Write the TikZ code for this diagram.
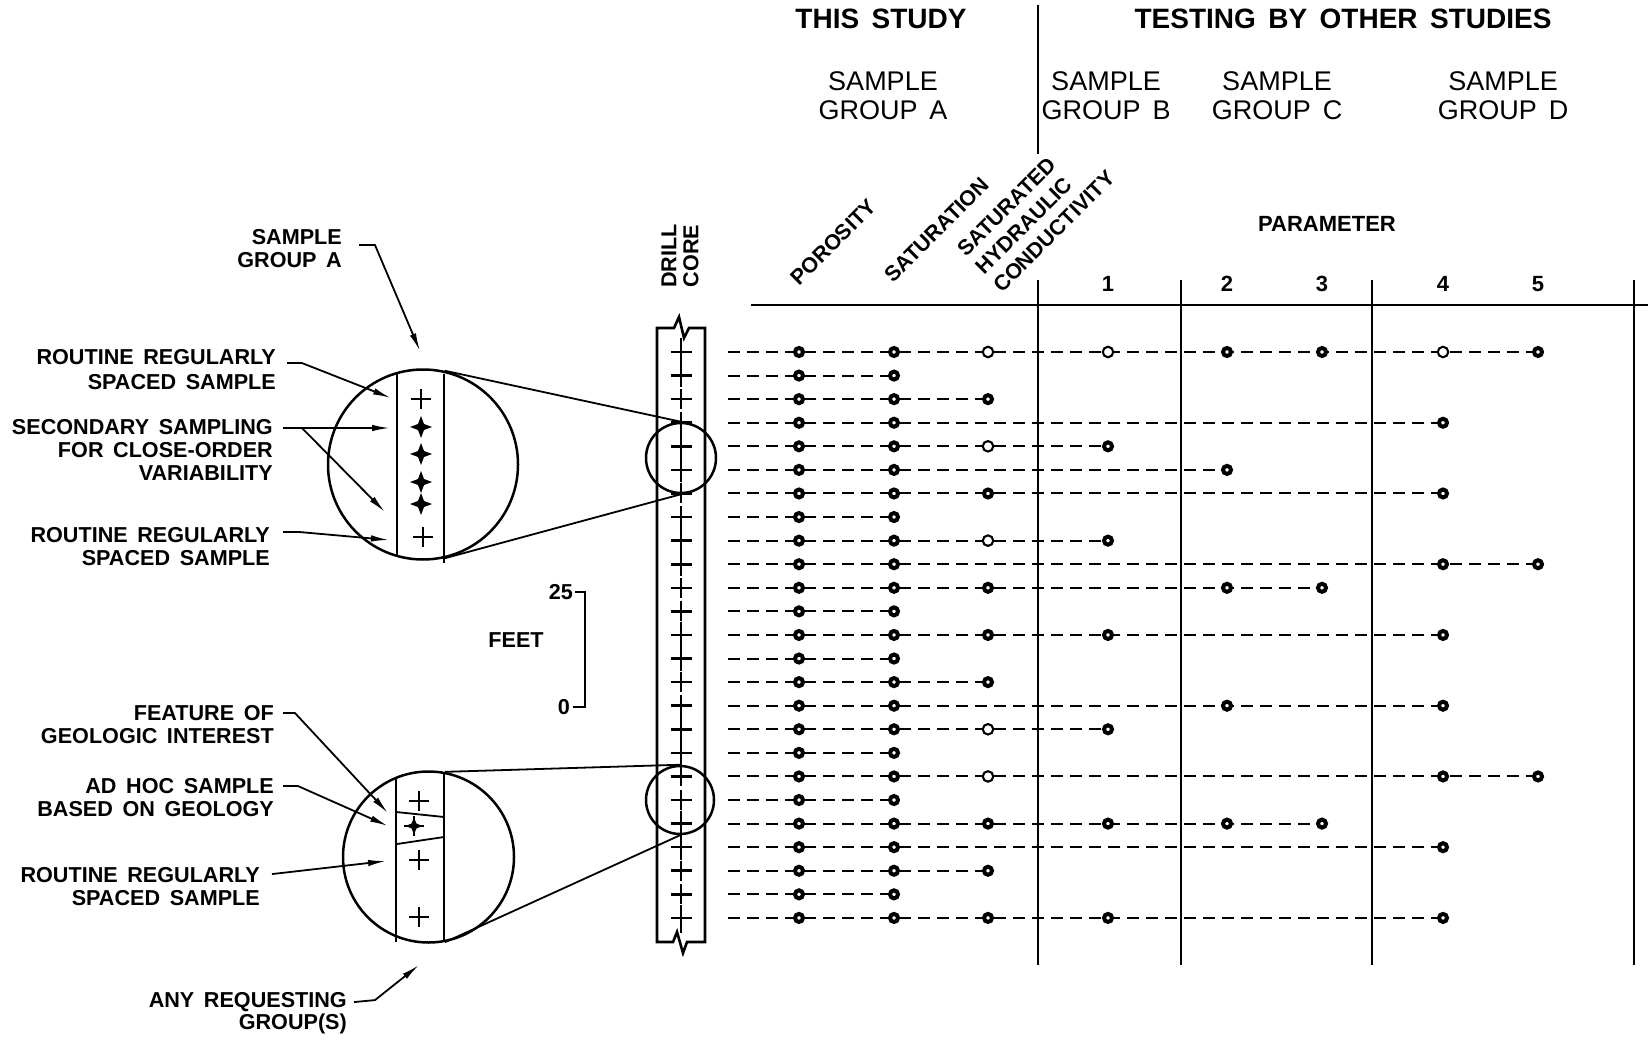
\documentclass[tikz,border=0pt]{standalone}
\usepackage{fontspec}
\setmainfont[WordSpace=1.6]{Liberation Sans}
\usetikzlibrary{arrows.meta}
\begin{document}
\begin{tikzpicture}[x=1pt,y=-1pt,
  lab/.style={font=\fontsize{21.6}{24}\selectfont\bfseries, inner sep=0pt},
  hdr/.style={font=\fontsize{28}{32}\selectfont\bfseries, inner sep=0pt},
  grp/.style={font=\fontsize{27}{30}\selectfont, inner sep=0pt},
  parm/.style={font=\fontsize{22}{25}\selectfont\bfseries, inner sep=0pt},
  rot/.style={font=\fontsize{21.5}{24}\selectfont\bfseries, inner sep=0pt, rotate=45, anchor=base west},
  leader/.style={line width=1.8pt, -{Latex[length=18pt,width=6.5pt]}},
  thinln/.style={line width=1.8pt},
  heavy/.style={line width=2.6pt},
  sep/.style={line width=2.8pt},
  rowline/.style={line width=2pt, dash pattern=on 12pt off 7pt},
  fdot/.style={circle, draw, fill=white, line width=4pt, minimum size=8pt, inner sep=0pt},
  odot/.style={circle, draw, fill=white, line width=2.1pt, minimum size=10.5pt, inner sep=0pt},
  zoomc/.style={circle, draw, line width=2.5pt, inner sep=0pt},
  plusm/.pic={\draw[line width=2.2pt] (-10,0) -- (10,0) (0,-10) -- (0,10);},
  starm/.pic={\fill (11,0) -- (3,-3) -- (0,-11) -- (-3,-3) -- (-11,0) -- (-3,3) -- (0,11) -- (3,3) -- cycle; \fill (0,0) circle (4.2);},
]
\useasboundingbox (0,0) rectangle (1648,1040);

% ---------- header ----------
\node[hdr] (thisstudy) at (881,19) {THIS STUDY};
\node[hdr] (others) at (1343,19) {TESTING BY OTHER STUDIES};
\node[grp] (gA1) at (883,81) {SAMPLE};
\node[grp] (gA2) at (883,110) {GROUP A};
\node[grp] (gB1) at (1106,81) {SAMPLE};
\node[grp] (gB2) at (1106,110) {GROUP B};
\node[grp] (gC1) at (1277,81) {SAMPLE};
\node[grp] (gC2) at (1277,110) {GROUP C};
\node[grp] (gD1) at (1503,81) {SAMPLE};
\node[grp] (gD2) at (1503,110) {GROUP D};
\node[parm] (param) at (1327,224) {PARAMETER};
\node[parm] (n1) at (1108,284) {1};
\node[parm] (n2) at (1227,284) {2};
\node[parm] (n3) at (1322,284) {3};
\node[parm] (n4) at (1443,284) {4};
\node[parm] (n5) at (1538,284) {5};

\node[rot] (poro) at (799,287) {POROSITY};
\node[rot] (satu) at (893,284) {SATURATION};
\node[rot] (shc1) at (966,258) {SATURATED};
\node[rot] (shc2) at (984,276) {HYDRAULIC};
\node[rot] (shc3) at (1002,294) {CONDUCTIVITY};

\node[lab, rotate=90] (drill) at (669,256) {DRILL};
\node[lab, rotate=90] (corelab) at (691,256) {CORE};

% table lines
\draw[sep] (1038,5) -- (1038,154);
\draw[sep] (1038,280) -- (1038,965);
\draw[sep] (1181,280) -- (1181,965);
\draw[sep] (1372,280) -- (1372,965);
\draw[sep] (1634,280) -- (1634,965);
\draw[sep] (751,305) -- (1648,305);

% ---------- data rows ----------
\foreach \r/\e in {1/1538,2/894,3/988,4/1443,5/1108,6/1227,7/1443,8/894,9/1108,10/1538,
                   11/1322,12/894,13/1443,14/894,15/988,16/1443,17/1108,18/894,19/1538,20/894,
                   21/1322,22/1443,23/988,24/894,25/1443}{
  \pgfmathsetmacro\yy{352+23.58*(\r-1)}
  \coordinate (rs\r) at (728,\yy);
  \coordinate (re\r) at (\e,\yy);
  \draw[rowline] (rs\r) -- (re\r);
}
\foreach \r in {1,...,25}{
  \pgfmathsetmacro\yy{352+23.58*(\r-1)}
  \node[fdot] (p\r) at (799,\yy) {};
  \node[fdot] (s\r) at (894,\yy) {};
}
\foreach \r in {3,7,11,13,15,21,23,25}{\pgfmathsetmacro\yy{352+23.58*(\r-1)}\node[fdot] (h\r) at (988,\yy) {};}
\foreach \r in {1,5,9,17,19}{\pgfmathsetmacro\yy{352+23.58*(\r-1)}\node[odot] (h\r) at (988,\yy) {};}
\foreach \r in {5,9,13,17,21,25}{\pgfmathsetmacro\yy{352+23.58*(\r-1)}\node[fdot] (ca\r) at (1108,\yy) {};}
\foreach \r in {1}{\pgfmathsetmacro\yy{352+23.58*(\r-1)}\node[odot] (ca\r) at (1108,\yy) {};}
\foreach \r in {1,6,11,16,21}{\pgfmathsetmacro\yy{352+23.58*(\r-1)}\node[fdot] (cb\r) at (1227,\yy) {};}
\foreach \r in {1,11,21}{\pgfmathsetmacro\yy{352+23.58*(\r-1)}\node[fdot] (cc\r) at (1322,\yy) {};}
\foreach \r in {4,7,10,13,16,19,22,25}{\pgfmathsetmacro\yy{352+23.58*(\r-1)}\node[fdot] (cd\r) at (1443,\yy) {};}
\foreach \r in {1}{\pgfmathsetmacro\yy{352+23.58*(\r-1)}\node[odot] (cd\r) at (1443,\yy) {};}
\foreach \r in {1,10,19}{\pgfmathsetmacro\yy{352+23.58*(\r-1)}\node[fdot] (ce\r) at (1538,\yy) {};}

% ---------- drill core ----------
\draw[heavy, line join=miter] (657,328) -- (674,328) -- (679,317) -- (684,338) -- (689,328) -- (705,328)
   -- (705,942) -- (687,942) -- (683,953) -- (677,932) -- (673,942) -- (657,942) -- cycle;
\draw[line width=2.2pt, dash pattern=on 7pt off 3.5pt] (681,338) -- (681,936);
\foreach \r in {1,...,25}{
  \pgfmathsetmacro\yy{352+23.58*(\r-1)}
  \draw[line width=2.6pt] (670.5,\yy) -- (691.5,\yy);
  \draw[line width=2.6pt] (681,\yy-10) -- (681,\yy+10);
}
\node[zoomc, minimum size=70pt] (zc1) at (681,458) {};
\node[zoomc, minimum size=68pt] (zc2) at (680,800) {};

% ---------- magnified views ----------
\node[zoomc, minimum size=190pt] (mag1) at (423,464.5) {};
\node[zoomc, minimum size=171pt] (mag2) at (428.5,857) {};
\draw[thinln] (mag1.77.2) -- (zc1.north);
\draw[thinln] (mag1.-77.2) -- (zc1.south);
\draw[thinln] (mag2.79.5) -- (zc2.north);
\draw[thinln] (mag2.-79.5) -- (zc2.south);

\draw[line width=2.3pt] (397,373) -- (397,555);
\draw[line width=2.3pt] (444,374) -- (444,563);
\draw[line width=2.3pt] (396,777) -- (396,942);
\draw[line width=2.3pt] (444,772) -- (444,940);
\draw[thinln] (396,812) -- (444,817);
\draw[thinln] (397,844) -- (444,837);

\pic at (421,399) {plusm};
\pic at (421,427) {starm};
\pic at (421,454) {starm};
\pic at (421,482) {starm};
\pic at (421,504) {starm};
\pic at (423,537) {plusm};
\pic at (419,801) {plusm};
\pic at (414,826) {plusm};
\pic[scale=0.8] at (414,826) {starm};
\pic at (419,860) {plusm};
\pic at (419,917) {plusm};

% ---------- left labels ----------
\node[lab, anchor=base east] (sgA1) at (342,244.5) {SAMPLE};
\node[lab, anchor=base east] (sgA2) at (342,267.5) {GROUP A};
\node[lab, anchor=base east] (rr1a) at (276,364.5) {ROUTINE REGULARLY};
\node[lab, anchor=base east] (rr1b) at (276,389.5) {SPACED SAMPLE};
\node[lab, anchor=base east] (sec1) at (273,434.5) {SECONDARY SAMPLING};
\node[lab, anchor=base east] (sec2) at (273,457.5) {FOR CLOSE-ORDER};
\node[lab, anchor=base east] (sec3) at (273,480.5) {VARIABILITY};
\node[lab, anchor=base east] (rr2a) at (270,542.5) {ROUTINE REGULARLY};
\node[lab, anchor=base east] (rr2b) at (270,565.5) {SPACED SAMPLE};
\node[lab, anchor=base east] (feat1) at (274,720.5) {FEATURE OF};
\node[lab, anchor=base east] (feat2) at (274,743.5) {GEOLOGIC INTEREST};
\node[lab, anchor=base east] (adh1) at (274,793.5) {AD HOC SAMPLE};
\node[lab, anchor=base east] (adh2) at (274,816.5) {BASED ON GEOLOGY};
\node[lab, anchor=base east] (rr3a) at (260,882.5) {ROUTINE REGULARLY};
\node[lab, anchor=base east] (rr3b) at (260,905.5) {SPACED SAMPLE};
\node[lab, anchor=base east] (any1) at (347,1007.5) {ANY REQUESTING};
\node[lab, anchor=base east] (any2) at (347,1029.5) {GROUP(S)};

\coordinate (t1) at (420,351);
\coordinate (t2) at (391,398);
\coordinate (t3) at (390,428);
\coordinate (t4) at (385,512);
\coordinate (t5) at (389,540);
\coordinate (t6) at (388,813);
\coordinate (t7) at (388,826);
\coordinate (t8) at (386,861);
\coordinate (t9) at (419,965);

\draw[leader] (sgA1.east) ++(17,8) -- ++(16,0) -- (t1);
\draw[leader] (rr1a.east) ++(11,6) -- ++(15,0) -- (t2);
\draw[leader] (sec1.east) ++(10,1) -- (t3);
\draw[leader] (sec1.east) ++(29,1) -- (t4);
\draw[thinln] (sec1.east) ++(10,1) -- ++(19,0);
\draw[leader] (rr2a.east) ++(13,-3) -- ++(17,0) -- (t5);
\draw[leader] (feat1.east) ++(9,0) -- ++(12,0) -- (t6);
\draw[leader] (adh1.east) ++(9,0) -- ++(15,0) -- (t7);
\draw[leader] (rr3a.east) ++(12,-1) -- (t8);
\draw[leader] (any1.east) ++(7,0) -- ++(21,-2) -- (t9);

% ---------- scale bar ----------
\node[lab] (feet) at (516,640) {FEET};
\node[lab, anchor=base east] (n25) at (573,599.5) {25};
\node[lab, anchor=base east] (n0) at (570,714.5) {0};
\draw[heavy] ([xshift=2pt]n25.east) -- ++(10,0) |- ([xshift=3pt]n0.east);
\end{tikzpicture}
\end{document}
